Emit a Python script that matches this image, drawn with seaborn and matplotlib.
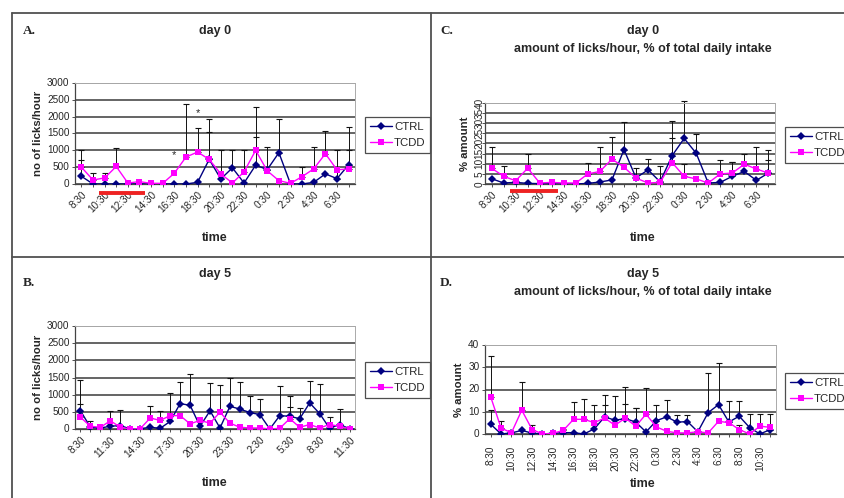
# -*- coding: utf-8 -*-
"""Licks/hour figure, 4 panels (A-D), CTRL vs TCDD."""

import matplotlib
matplotlib.use("Agg")
import matplotlib.pyplot as plt
import matplotlib.transforms as mtransforms
from matplotlib.lines import Line2D
import numpy as np
import pandas as pd
import seaborn as sns

# time labels
hours_day0 = ["8:30", "9:30", "10:30", "11:30", "12:30", "13:30", "14:30", "15:30",
              "16:30", "17:30", "18:30", "19:30", "20:30", "21:30", "22:30", "23:30",
              "0:30", "1:30", "2:30", "3:30", "4:30", "5:30", "6:30", "7:30"]
hours_day5 = hours_day0 + ["8:30", "9:30", "10:30", "11:30"]

# A: day 0, licks/hour
a_ctrl = [230, 0, 0, 0, 0, 0, 0, 0, 0, 0, 50, 730, 150, 480, 30, 560, 430, 930, 0, 0, 50, 300, 160, 570]
a_ctrl_err = [490, 0, 0, 0, 0, 0, 0, 0, 0, 0, 0, 800, 850, 520, 0, 840, 670, 990, 0, 0, 0, 0, 840, 1130]
a_tcdd = [500, 120, 180, 520, 30, 70, 20, 20, 320, 800, 950, 730, 300, 30, 360, 1000, 390, 100, 20, 220, 450, 900, 420, 450]
a_tcdd_err = [500, 220, 150, 540, 0, 0, 0, 0, 0, 1570, 700, 1190, 0, 0, 640, 1300, 0, 0, 0, 280, 650, 660, 0, 550]

# B: day 5, licks/hour
b_ctrl = [530, 50, 30, 80, 100, 0, 10, 50, 20, 220, 740, 690, 80, 530, 30, 660, 580, 480, 420, 0,
          390, 370, 300, 760, 450, 20, 130, 10]
b_ctrl_err = [900, 190, 0, 450, 440, 0, 0, 0, 0, 840, 640, 910, 0, 820, 0, 840, 800, 470, 450, 0,
              850, 580, 310, 640, 870, 0, 460, 0]
b_tcdd = [340, 80, 50, 240, 50, 0, 10, 320, 250, 390, 390, 150, 250, 170, 490, 170, 50, 30, 30, 0,
          20, 300, 50, 130, 30, 130, 80, 10]
b_tcdd_err = [390, 0, 0, 0, 0, 0, 0, 360, 260, 0, 0, 0, 0, 0, 800, 0, 0, 0, 0, 0,
              0, 330, 0, 0, 0, 220, 0, 0]

# C: day 0, % of total daily intake
c_ctrl = [2.6, 0.5, 0.8, 0.3, 0.2, 0, 0, 0, 0.3, 1, 2, 17, 3, 7, 1.1, 14, 22.5, 15.2, 0.5, 0.8, 3.8, 6.2, 1.8, 5.4]
c_ctrl_err = [0, 0, 0, 0, 0, 0, 0, 0, 0, 0, 0, 13.7, 4.8, 5.3, 7.6, 17, 18.5, 9.3, 0, 0, 7.2, 0, 0, 6.6]
c_tcdd = [7.8, 3.8, 1.6, 7.8, 0.5, 0.8, 0.5, 0.5, 5, 6.2, 12.3, 8.3, 2.9, 0.5, 0.8, 10.6, 3.8, 2.5, 0.5, 5, 5.4, 9.8, 7.4, 5.4]
c_tcdd_err = [10.7, 4.9, 0, 7.2, 0, 0, 0, 0, 5.3, 12.3, 10.7, 0, 0, 0, 0, 11.9, 6.2, 0, 0, 7, 5.6, 5.2, 11.1, 11.6]

# D: day 5, % of total daily intake
d_ctrl = [4.4, 0, 0.5, 1.6, 0.4, 0, 0.3, 0.6, 0.6, 0, 2.3, 7.7, 6.2, 6.9, 5.4, 0.9, 6, 7.7, 5.3, 5.6,
          1, 9.6, 13.2, 5.4, 8, 2.9, 0, 2]
d_ctrl_err = [6.3, 0, 0, 0, 0, 0, 0, 0, 0, 0, 0, 10, 10.8, 14.3, 6.5, 0, 7.2, 7.8, 3.1, 2.8,
              0, 17.6, 18.5, 9.6, 7, 6.3, 0, 7.2]
d_tcdd = [16.7, 2.7, 0.5, 10.7, 2, 0, 0.3, 1.6, 6.6, 6.6, 5.1, 7.2, 3.9, 7.2, 3.5, 8.9, 3.2, 1.2, 0.5, 0.5,
          1, 0.5, 5.7, 5.1, 2, 0, 3.5, 3]
d_tcdd_err = [18.3, 3, 0, 12.8, 2, 0, 0, 0.8, 7.8, 9, 8.1, 6, 0, 6.5, 8.4, 11.9, 0, 0, 0, 0,
              0, 0, 0, 0, 2.2, 0, 5.7, 0]

PALETTE = {"CTRL": "#000080", "TCDD": "#FF00FF"}
MARKERS = {"CTRL": "D", "TCDD": "s"}
W, H = 844, 498
TICK_FS = 7.2

sns.set_theme(style="white")
plt.rcParams["font.family"] = ["Liberation Sans", "DejaVu Sans"]


def fig_box(left, top, right, bottom):
    """Piksel koordinatlarını figür oranına çevirir."""
    return [left / W, 1 - bottom / H, (right - left) / W, (bottom - top) / H]


def draw_panel(ax, times, ctrl, ctrl_err, tcdd, tcdd_err, ymax, ystep,
               label_every, xrot, ylabel, yrot=0):
    n = len(times)
    idx = list(range(n))
    df = pd.DataFrame({
        "idx": idx * 2,
        "value": ctrl + tcdd,
        "group": ["CTRL"] * n + ["TCDD"] * n,
    })

    # upper-only error bars
    for vals, errs in [(ctrl, ctrl_err), (tcdd, tcdd_err)]:
        xs = [i for i in idx if errs[i] > 0]
        ys = [vals[i] for i in xs]
        es = [errs[i] for i in xs]
        ax.errorbar(xs, ys, yerr=[np.zeros(len(es)), es], fmt="none",
                    ecolor="#111111", elinewidth=0.7, capsize=2.3,
                    capthick=0.8, zorder=2, clip_on=False)

    sns.lineplot(data=df, x="idx", y="value", hue="group", style="group",
                 markers=MARKERS, dashes=False, palette=PALETTE,
                 markersize=4.2, markeredgewidth=0, linewidth=1.0,
                 legend=False, ax=ax, zorder=3)

    ax.set_xlim(-0.55, n - 0.45)
    ax.set_ylim(0, ymax)
    ax.set_yticks(np.arange(0, ymax + ystep / 2, ystep))
    ax.yaxis.grid(True, color="#3a3a3a", linewidth=1.1)
    ax.set_axisbelow(True)

    ax.set_xticks(idx)
    ax.set_xticklabels([t if i % label_every == 0 else "" for i, t in enumerate(times)])
    if xrot == 90:
        plt.setp(ax.get_xticklabels(), rotation=90, ha="center", fontsize=TICK_FS)
    else:
        plt.setp(ax.get_xticklabels(), rotation=xrot, ha="right",
                 rotation_mode="anchor", fontsize=TICK_FS)
    plt.setp(ax.get_yticklabels(), fontsize=TICK_FS, rotation=yrot,
             va="center", ha="right" if yrot == 0 else "center")

    ax.tick_params(axis="both", length=2.5, width=0.6, color="#333333",
                   pad=1.5, direction="out", bottom=True, left=True)
    if xrot == 90:
        ax.tick_params(axis="x", pad=6)
    ax.set_xlabel("")
    ax.set_ylabel(ylabel, fontsize=8.2, fontweight="bold", labelpad=3)

    for side in ["left", "bottom"]:
        ax.spines[side].set_color("#444444")
        ax.spines[side].set_linewidth(0.9)
    for side in ["top", "right"]:
        ax.spines[side].set_color("#aaaaaa")
        ax.spines[side].set_linewidth(0.7)


def add_legend(ax, fig, left_px, center_px):
    handles = [
        Line2D([], [], color=PALETTE[g], marker=MARKERS[g], markersize=4.2,
               markeredgewidth=0, linewidth=1.0)
        for g in ["CTRL", "TCDD"]
    ]
    leg = ax.legend(handles, ["CTRL", "TCDD"], loc="center left",
                    bbox_to_anchor=(left_px / W, 1 - center_px / H),
                    bbox_transform=fig.transFigure, fontsize=8.2,
                    frameon=True, fancybox=False, handlelength=2.0,
                    handletextpad=0.15, borderpad=0.4, labelspacing=0.55,
                    borderaxespad=0)
    leg.get_frame().set_edgecolor("#222222")
    leg.get_frame().set_linewidth(0.9)


def red_bar(ax):
    trans = mtransforms.blended_transform_factory(ax.transData, ax.transAxes)
    ax.plot([1.5, 5.5], [-0.09, -0.09], color="#ee2222", lw=2.8,
            transform=trans, clip_on=False, solid_capstyle="butt")


fig = plt.figure(figsize=(W / 100, H / 100), dpi=100)

ax_a = fig.add_axes(fig_box(75, 83, 355, 184))
ax_b = fig.add_axes(fig_box(75, 326, 355, 429))
ax_c = fig.add_axes(fig_box(485, 103, 775, 184))
ax_d = fig.add_axes(fig_box(485, 345, 776, 434))

draw_panel(ax_a, hours_day0, a_ctrl, a_ctrl_err, a_tcdd, a_tcdd_err,
           3000, 500, 2, 45, "no of licks/hour")
draw_panel(ax_b, hours_day5, b_ctrl, b_ctrl_err, b_tcdd, b_tcdd_err,
           3000, 500, 3, 45, "no of licks/hour")
draw_panel(ax_c, hours_day0, c_ctrl, c_ctrl_err, c_tcdd, c_tcdd_err,
           40, 5, 2, 45, "% amount", yrot=90)
draw_panel(ax_d, hours_day5, d_ctrl, d_ctrl_err, d_tcdd, d_tcdd_err,
           40, 10, 2, 90, "% amount")

red_bar(ax_a)
red_bar(ax_c)

# significance stars (panel A)
ax_a.text(8, 720, "*", fontsize=8, ha="center", va="bottom")
ax_a.text(10, 1950, "*", fontsize=8, ha="center", va="bottom")

add_legend(ax_a, fig, 365, 135)
add_legend(ax_b, fig, 365, 380)
add_legend(ax_c, fig, 785, 145)
add_legend(ax_d, fig, 785, 391)

# titles and labels
title_kw = dict(fontsize=9, fontweight="bold", ha="center", va="center")
fig.text(215 / W, 1 - 31 / H, "day 0", **title_kw)
fig.text(643 / W, 1 - 31 / H, "day 0", **title_kw)
fig.text(643 / W, 1 - 49 / H, "amount of licks/hour, % of total daily intake", **title_kw)
fig.text(215 / W, 1 - 274 / H, "day 5", **title_kw)
fig.text(643 / W, 1 - 274 / H, "day 5", **title_kw)
fig.text(643 / W, 1 - 292 / H, "amount of licks/hour, % of total daily intake", **title_kw)

time_kw = dict(fontsize=9, fontweight="bold", ha="center", va="center")
fig.text(215 / W, 1 - 238 / H, "time", **time_kw)
fig.text(643 / W, 1 - 238 / H, "time", **time_kw)
fig.text(215 / W, 1 - 483 / H, "time", **time_kw)
fig.text(643 / W, 1 - 484 / H, "time", **time_kw)

letter_kw = dict(fontsize=9.5, fontweight="bold", ha="left", va="center",
                 family=["Liberation Serif", "DejaVu Serif"])
fig.text(23 / W, 1 - 31 / H, "A.", **letter_kw)
fig.text(440 / W, 1 - 31 / H, "C.", **letter_kw)
fig.text(23 / W, 1 - 283 / H, "B.", **letter_kw)
fig.text(440 / W, 1 - 283 / H, "D.", **letter_kw)

# panel frame lines
frame_kw = dict(transform=fig.transFigure, color="#505050", linewidth=1.3)
fig.add_artist(Line2D([12 / W, 12 / W], [1 - 13 / H, 0], **frame_kw))
fig.add_artist(Line2D([12 / W, 1], [1 - 13 / H, 1 - 13 / H], **frame_kw))
fig.add_artist(Line2D([431 / W, 431 / W], [1 - 13 / H, 0], **frame_kw))
fig.add_artist(Line2D([12 / W, 1], [1 - 257 / H, 1 - 257 / H], **frame_kw))

fig.savefig("out.png", dpi=100)
plt.close(fig)
